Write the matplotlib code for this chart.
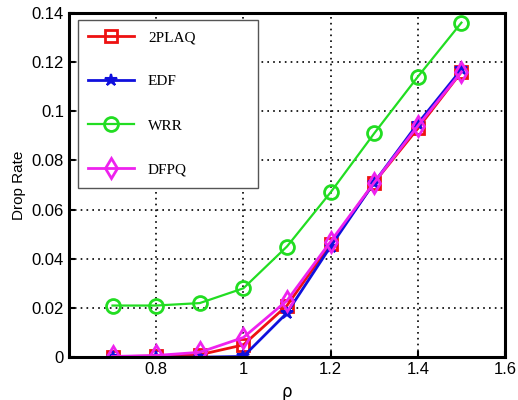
import matplotlib
matplotlib.use('Agg')
import matplotlib.pyplot as plt

plt.rcParams['font.family'] = ['Liberation Sans', 'DejaVu Sans']

rho = [0.7, 0.8, 0.9, 1.0, 1.1, 1.2, 1.3, 1.4, 1.5]
plaq = [0.0002, 0.0005, 0.001, 0.005, 0.021, 0.046, 0.071, 0.093, 0.116]
edf = [0.0, 0.0, 0.0, 0.0003, 0.018, 0.045, 0.071, 0.095, 0.117]
wrr = [0.021, 0.021, 0.022, 0.028, 0.045, 0.067, 0.091, 0.114, 0.136]
dfpq = [0.0003, 0.0007, 0.002, 0.008, 0.023, 0.047, 0.071, 0.094, 0.116]

fig = plt.figure(figsize=(5.18, 4.0), dpi=100)
ax = fig.add_axes([0.133, 0.107, 0.842, 0.861])

ax.plot(rho, plaq, color='#ee1111', lw=2, marker='s', ms=9, mfc='none', mew=2, label='2PLAQ')
ax.plot(rho, edf, color='#1010dd', lw=2, marker='*', ms=9, mew=1.5, label='EDF')
ax.plot(rho, wrr, color='#22dd22', lw=1.6, marker='o', ms=10, mfc='none', mew=2, label='WRR')
ax.plot(rho, dfpq, color='#ee22ee', lw=2, marker='d', ms=10, mfc='none', mew=2, label='DFPQ')

ax.set_xlim(0.6, 1.6)
ax.set_ylim(0, 0.14)
ax.set_xticks([0.8, 1.0, 1.2, 1.4, 1.6])
ax.set_xticklabels(['0.8', '1', '1.2', '1.4', '1.6'])
ax.set_yticks([0, 0.02, 0.04, 0.06, 0.08, 0.1, 0.12, 0.14])
ax.set_yticklabels(['0', '0.02', '0.04', '0.06', '0.08', '0.1', '0.12', '0.14'])
ax.tick_params(direction='in', labelsize=12, width=1.5, length=4)
ax.grid(True, color='black', linestyle=(0, (1, 2.5)), linewidth=1.2)
for s in ax.spines.values():
    s.set_linewidth(2.2)

ax.set_xlabel('ρ', fontsize=12, family='DejaVu Sans')
ax.set_ylabel('Drop Rate', fontsize=11)

leg = ax.legend(loc='upper left', bbox_to_anchor=(0.02, 0.573, 0.413, 0.407), mode='expand',
                fancybox=False, edgecolor='#555555', framealpha=1, handlelength=3.0,
                handletextpad=0.9, labelspacing=2.0, borderpad=0.7, borderaxespad=0,
                prop={'family': 'Liberation Serif', 'size': 11})
leg.get_frame().set_linewidth(1.0)

plt.savefig('out.png')
